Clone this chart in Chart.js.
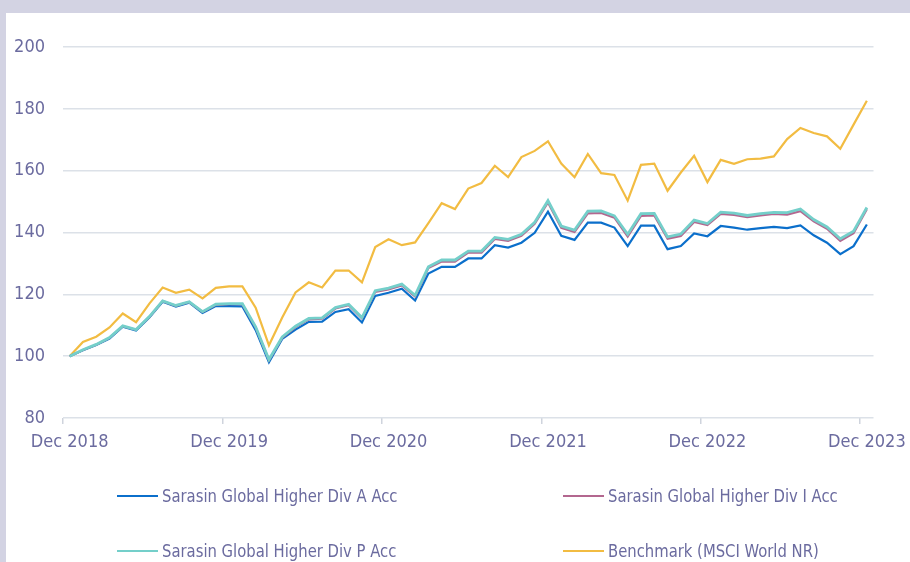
<!DOCTYPE html>
<html>
<head>
<meta charset="utf-8">
<script src="https://cdn.jsdelivr.net/npm/chart.js@4.4.0/dist/chart.umd.min.js"></script>
<style>
    html, body { margin: 0; padding: 0; background: #d3d3e3; }
    #panel { position: absolute; left: 6px; top: 13px; width: 904px; height: 549px; background: #fff; }
    #perfChart { position: absolute; left: 0; top: 0; }
    .legend-item {
        position: absolute;
        font-family: "Liberation Sans Narrow", "DejaVu Sans Condensed", "Liberation Sans", sans-serif;
        font-size: 18px;
        color: #6b6b9f;
        white-space: nowrap;
        line-height: 20px;
    }
    .legend-item i {
        display: inline-block;
        width: 41px;
        height: 2.5px;
        vertical-align: middle;
        margin-right: 4px;
        position: relative;
        top: -1px;
    }
    .legend-item span {
        display: inline-block;
        transform: scaleX(0.915);
        transform-origin: left center;
    }
</style>
</head>
<body>
<div id="panel"></div>
<canvas id="perfChart" width="910" height="562"></canvas>
<div id="legend"></div>

<script>
// tick labels on the time axis (one every 12 months)
const yearLabels = ['Dec 2018', 'Dec 2019', 'Dec 2020', 'Dec 2021', 'Dec 2022', 'Dec 2023'];

// monthly categories, Dec 2018 .. Dec 2023
const monthNames = ['Jan', 'Feb', 'Mar', 'Apr', 'May', 'Jun', 'Jul', 'Aug', 'Sep', 'Oct', 'Nov', 'Dec'];
const months = ['Dec 2018'];
for (let y = 2019; y <= 2023; y++) {
    monthNames.forEach(m => months.push(m + ' ' + y));
}

const fundA = [
    100, 101.9, 103.6, 105.7, 109.5, 108.3, 112.5, 117.6, 116.0, 117.3, 114.0, 116.2,
    116.2, 116.1, 108.4, 98.0, 105.6, 108.6, 111.1, 111.2, 114.3, 115.2, 110.9, 119.5,
    120.5, 121.8, 118.0, 126.7, 128.9, 128.9, 131.6, 131.6, 135.9, 135.1, 136.7, 139.9,
    146.7, 138.9, 137.6, 143.2, 143.2, 141.6, 135.6, 142.2, 142.2, 134.6, 135.6, 139.7,
    138.8, 142.1, 141.6, 140.9, 141.4, 141.8, 141.4, 142.3, 139.1, 136.7, 133.0, 135.6,
    142.6
];

const fundI = [
    100, 102.0, 103.7, 105.9, 109.7, 108.5, 112.7, 117.8, 116.3, 117.5, 114.3, 116.6,
    116.8, 116.8, 109.3, 98.7, 106.0, 109.4, 111.9, 112.1, 115.4, 116.5, 112.2, 120.8,
    121.6, 122.9, 119.3, 128.5, 130.6, 130.6, 133.5, 133.5, 137.9, 137.3, 138.9, 142.8,
    149.7, 141.5, 140.2, 146.2, 146.3, 144.8, 138.7, 145.4, 145.5, 138.0, 138.9, 143.4,
    142.4, 146.0, 145.7, 145.0, 145.5, 146.0, 145.8, 146.9, 143.6, 141.2, 137.3, 139.8,
    147.5
];

const fundP = [
    100, 102.1, 103.8, 106.0, 109.8, 108.6, 112.8, 117.9, 116.4, 117.6, 114.4, 116.8,
    117.0, 117.0, 109.5, 98.9, 106.2, 109.7, 112.2, 112.4, 115.7, 116.8, 112.5, 121.2,
    122.0, 123.3, 119.7, 128.9, 131.1, 131.1, 134.0, 134.0, 138.4, 137.8, 139.4, 143.3,
    150.3, 142.1, 140.8, 146.9, 147.0, 145.4, 139.4, 146.1, 146.2, 138.6, 139.5, 144.0,
    142.9, 146.6, 146.3, 145.5, 146.1, 146.5, 146.4, 147.6, 144.2, 141.8, 138.0, 140.4,
    148.1
];

const benchmark = [
    100, 104.6, 106.3, 109.3, 113.8, 111.0, 117.0, 122.2, 120.5, 121.5, 118.7, 122.1,
    122.6, 122.6, 115.7, 103.5, 112.5, 120.6, 123.9, 122.2, 127.7, 127.7, 123.9, 135.3,
    137.8, 135.9, 136.8, 143.0, 149.5, 147.6, 154.2, 156.0, 161.6, 157.9, 164.4, 166.4,
    169.5, 162.3, 157.9, 165.4, 159.2, 158.6, 150.3, 161.9, 162.3, 153.5, 159.4, 164.8,
    156.3, 163.5, 162.2, 163.7, 163.9, 164.6, 170.2, 173.8, 172.2, 171.1, 167.1, 174.9,
    182.6
];

const textColor = '#6b6b9f';
const gridColor = '#dce1e8';
const fontFamily = '"Liberation Sans Narrow", "DejaVu Sans Condensed", "Liberation Sans", sans-serif';

const series = [
    { label: 'Sarasin Global Higher Div A Acc', data: fundA, color: '#0b6fcb', width: 2.2, order: 2 },
    { label: 'Sarasin Global Higher Div I Acc', data: fundI, color: '#b3678f', width: 2.2, order: 1 },
    { label: 'Sarasin Global Higher Div P Acc', data: fundP, color: '#74cfca', width: 2.8, order: 0 },
    { label: 'Benchmark (MSCI World NR)', data: benchmark, color: '#f2bc42', width: 2.2, order: 3 }
];

const ctx = document.getElementById('perfChart').getContext('2d');

new Chart(ctx, {
    type: 'line',
    data: {
        labels: months,
        datasets: series.map(s => ({
            label: s.label,
            data: s.data,
            borderColor: s.color,
            backgroundColor: s.color,
            borderWidth: s.width,
            order: s.order,
            pointRadius: 0,
            tension: 0,
            fill: false
        }))
    },
    options: {
        responsive: false,
        animation: false,
        layout: {
            padding: { left: 0, top: 47, right: 36.5, bottom: 0 }
        },
        plugins: {
            legend: { display: false },
            tooltip: { enabled: false }
        },
        scales: {
            x: {
                type: 'category',
                offset: true,
                border: { display: false },
                grid: {
                    offset: true,
                    drawOnChartArea: false,
                    drawTicks: true,
                    tickLength: 6,
                    lineWidth: 1.5,
                    tickColor: function(c) {
                        return c.index % 12 === 0 ? '#cfd4dd' : 'rgba(0,0,0,0)';
                    }
                },
                ticks: {
                    autoSkip: false,
                    maxRotation: 0,
                    padding: 8,
                    color: textColor,
                    font: { family: fontFamily, size: 18 },
                    callback: function(value, index) {
                        return index % 12 === 0 ? yearLabels[index / 12] : '';
                    }
                },
                afterFit: function(scale) {
                    scale.height = 144;
                    // let the last label hang into the right margin
                    scale.paddingLeft = 0;
                    scale.paddingRight = 0;
                }
            },
            y: {
                min: 80,
                max: 200,
                border: { display: false },
                grid: {
                    color: gridColor,
                    lineWidth: 1.5,
                    drawTicks: false
                },
                ticks: {
                    stepSize: 20,
                    padding: 18,
                    color: textColor,
                    font: { family: fontFamily, size: 18 }
                },
                afterFit: function(scale) {
                    scale.width = 63;
                }
            }
        }
    }
});

// legend laid out in two columns like the source
const legendPos = [
    { left: 117, top: 486 },
    { left: 563, top: 486 },
    { left: 117, top: 541 },
    { left: 563, top: 541 }
];
const legendEl = document.getElementById('legend');
series.forEach((s, i) => {
    const item = document.createElement('div');
    item.className = 'legend-item';
    item.style.left = legendPos[i].left + 'px';
    item.style.top = legendPos[i].top + 'px';
    item.innerHTML = '<i style="background:' + s.color + '"></i><span>' + s.label + '</span>';
    legendEl.appendChild(item);
});
</script>
</body>
</html>
